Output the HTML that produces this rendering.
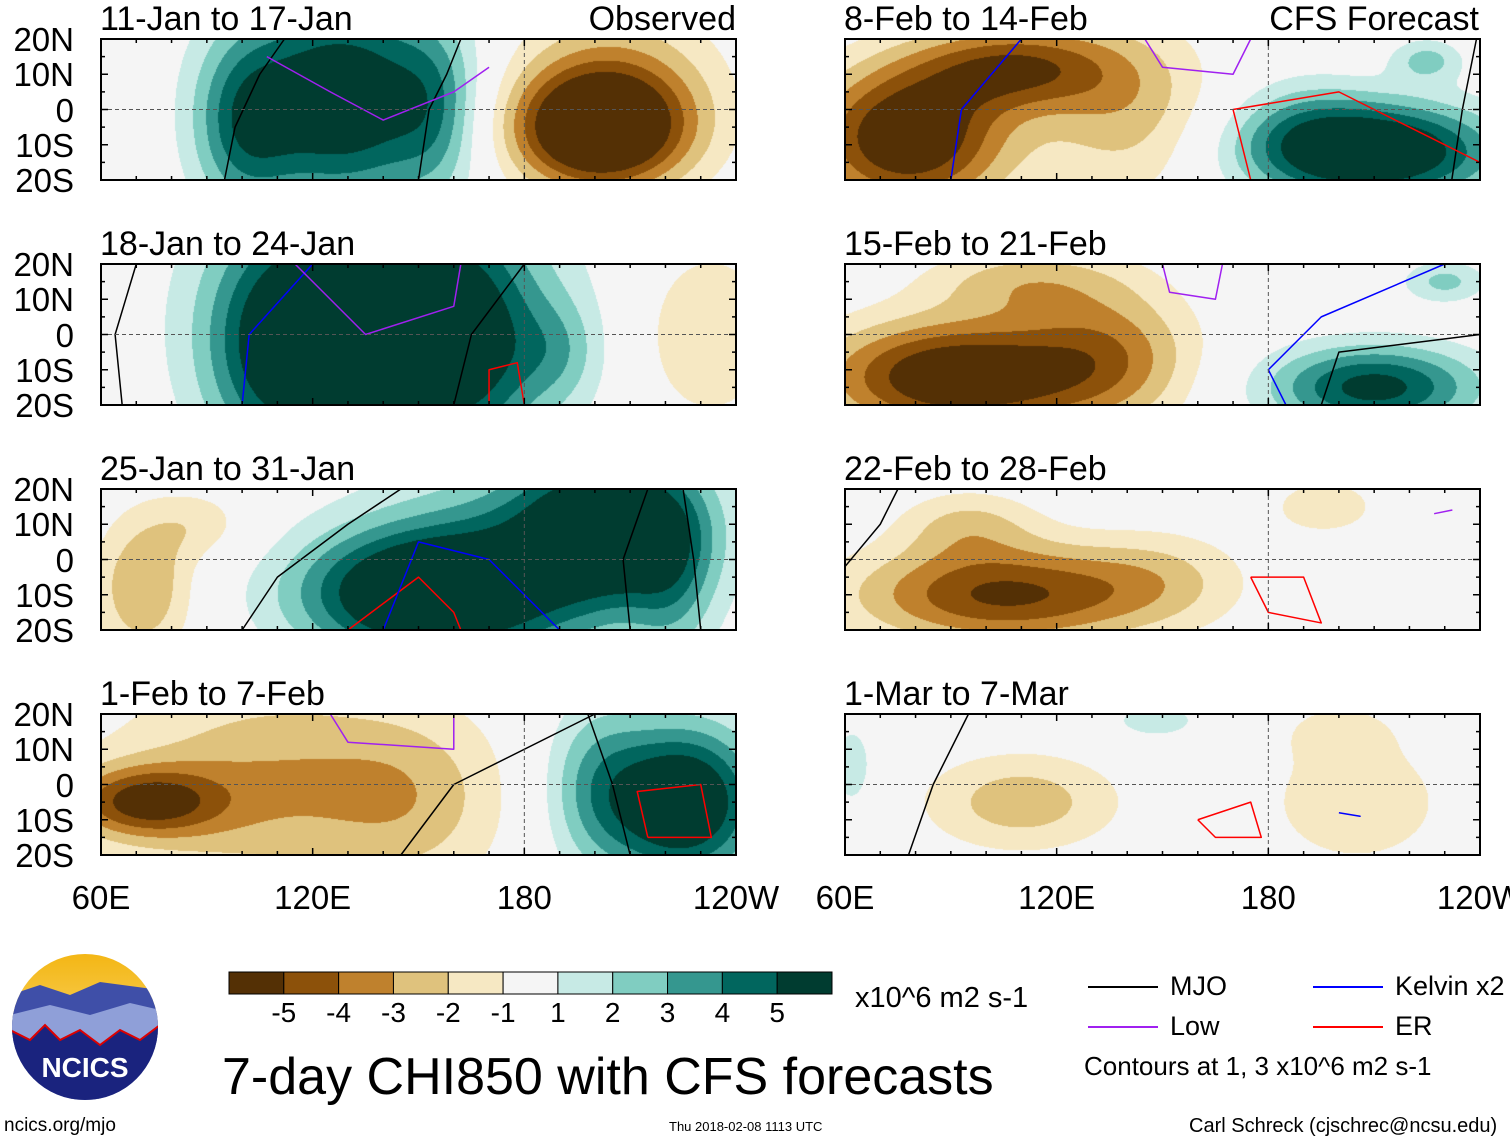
<!DOCTYPE html>
<html><head><meta charset="utf-8">
<style>
body{margin:0;background:#fff;width:1510px;height:1142px;overflow:hidden;font-family:"Liberation Sans",sans-serif;position:relative}
.t{position:absolute;white-space:nowrap;color:#000;line-height:1}
canvas{position:absolute;left:0;top:0}
svg{position:absolute;left:0;top:0}
</style></head><body>
<canvas id="cv" width="1510" height="1142"></canvas>
<svg id="ov" width="1510" height="1142"></svg>

<div class="t" style="left:222px;top:1051px;font-size:52px">7-day CHI850 with CFS forecasts</div>
<div class="t" style="left:855px;top:984px;font-size:29px">x10^6 m2 s-1</div>
<div class="t" style="left:1084px;top:1053px;font-size:26px">Contours at 1, 3 x10^6 m2 s-1</div>
<div class="t" style="left:4px;top:1116px;font-size:19px">ncics.org/mjo</div>
<div class="t" style="left:669px;top:1120px;font-size:13px">Thu 2018-02-08 1113 UTC</div>
<div class="t" style="left:1189px;top:1116px;font-size:20px">Carl Schreck (cjschrec@ncsu.edu)</div>

<script>
const panelTitles=["11-Jan to 17-Jan","18-Jan to 24-Jan","25-Jan to 31-Jan","1-Feb to 7-Feb","8-Feb to 14-Feb","15-Feb to 21-Feb","22-Feb to 28-Feb","1-Mar to 7-Mar"];
// blobs: [lonCenter, latCenter, amplitude, lonWidth, latWidth]
const blobs0=[[128,3,6.5,30,30],[100,-5,3,14,25],[155,0,2,12,25],[201,-6,-6.5,24,16],[205,5,-3,30,25]];
const blobs1=[[140,5,6.5,42,40],[110,-5,3.5,20,30],[165,-5,2.5,20,30],[232,0,-2,20,25],[190,-5,1.5,12,15]];
const blobs2=[[150,-10,6.5,35,18],[205,10,6,25,20],[180,0,3,45,30],[222,-5,2,12,25],[72,-8,-3,14,20],[88,10,-1.5,15,10]];
const blobs3=[[72,-5,-4.5,22,10],[110,0,-3,48,30],[150,-5,-1.5,25,25],[225,-5,7,22,22],[200,0,2.5,15,25]];
const blobs4=[[78,-8,-6.5,28,20],[108,12,-4.5,28,12],[140,0,-2.5,25,25],[210,-12,7,35,14],[225,14,2.3,10,6],[190,-5,1.5,20,15]];
const blobs5=[[92,-12,-6.5,38,16],[110,15,-2.2,28,10],[135,-5,-3,25,20],[210,-15,5.5,30,12],[230,15,2.3,12,6]];
const blobs6=[[105,-10,-5.2,42,14],[95,10,-2,20,10],[150,-5,-1.5,25,14],[196,15,-1.8,15,8]];
const blobs7=[[110,-5,-2.6,28,14],[62,5,1.8,6,12],[148,18,1.5,15,6],[205,-5,-1.7,28,20],[200,15,-1.2,15,8]];
const allBlobs=[blobs0,blobs1,blobs2,blobs3,blobs4,blobs5,blobs6,blobs7];
// contour lines: [type, [[lon,lat],...]]
const lines0=[["mjo",[[95,-20],[98,-5],[105,10],[112,20]]],["mjo",[[150,-20],[153,0],[158,10],[162,20]]],["low",[[107,15],[125,5],[140,-3],[160,5],[170,12]]]];
const lines1=[["mjo",[[66,-20],[64,0],[70,20]]],["kelvin",[[100,-20],[102,0],[120,20]]],["mjo",[[160,-20],[165,0],[180,20]]],["er",[[170,-20],[170,-10],[178,-8],[180,-20]]],["low",[[115,20],[135,0],[160,8],[162,20]]]];
const lines2=[["mjo",[[100,-20],[110,-5],[130,10],[145,20]]],["er",[[130,-20],[150,-5],[160,-15],[162,-20]]],["kelvin",[[140,-20],[150,5],[170,0],[190,-20]]],["mjo",[[210,-20],[208,0],[215,20]]],["mjo",[[230,-20],[228,0],[225,20]]]];
const lines3=[["mjo",[[145,-20],[160,0],[200,20]]],["mjo",[[210,-20],[205,0],[198,20]]],["er",[[215,-15],[212,-2],[230,0],[233,-15],[215,-15]]],["low",[[125,20],[130,12],[160,10],[160,20]]]];
const lines4=[["kelvin",[[90,-20],[93,0],[110,20]]],["mjo",[[232,-20],[235,0],[239,20]]],["er",[[175,-20],[170,0],[200,5],[240,-15]]],["low",[[145,20],[150,12],[170,10],[175,20]]]];
const lines5=[["kelvin",[[185,-20],[180,-10],[195,5],[230,20]]],["mjo",[[195,-20],[200,-5],[240,0]]],["low",[[150,20],[152,12],[165,10],[167,20]]]];
const lines6=[["mjo",[[60,-2],[70,10],[75,20]]],["er",[[175,-5],[190,-5],[195,-18],[180,-15],[175,-5]]],["low",[[227,13],[232,14],[227,13]]]];
const lines7=[["mjo",[[78,-20],[85,0],[95,20]]],["er",[[160,-10],[175,-5],[178,-15],[165,-15],[160,-10]]],["kelvin",[[200,-8],[206,-9],[200,-8]]]];
const allLines=[lines0,lines1,lines2,lines3,lines4,lines5,lines6,lines7];
const levels=[-5,-4,-3,-2,-1,1,2,3,4,5];
const lonTicks=["60E","120E","180","120W"];
const colors=["#543005","#8c510a","#bf812d","#dfc27d","#f6e8c3","#f5f5f5","#c7eae5","#80cdc1","#35978f","#01665e","#003c30"];
const lineColors={mjo:"#000",low:"#a020f0",kelvin:"#0000ff",er:"#ff0000"};

const PW=635,PH=141,tops=[39,264,489,714],lefts=[101,845];
const cv=document.getElementById('cv'),ctx=cv.getContext('2d');
const ov=document.getElementById('ov');const NS="http://www.w3.org/2000/svg";
function mk(tag,attrs){const e=document.createElementNS(NS,tag);for(const k in attrs)e.setAttribute(k,attrs[k]);ov.appendChild(e);return e;}
function field(b,lon,lat){let v=0;for(const q of b){const dx=(lon-q[0])/q[3],dy=(lat-q[1])/q[4];v+=q[2]*Math.exp(-dx*dx-dy*dy);}return v;}
function bin(v){let i=0;while(i<levels.length&&v>=levels[i])i++;return i;}
for(let p=0;p<8;p++){
  const x0=lefts[p<4?0:1],y0=tops[p%4];
  const xs=l=>x0+(l-60)/180*PW, ys=a=>y0+(20-a)/40*PH;
  const b=allBlobs[p];
  for(let px=0;px<PW;px+=1)for(let py=0;py<PH;py+=1){
    const lon=60+(px+.5)/PW*180,lat=20-(py+.5)/PH*40;
    ctx.fillStyle=colors[bin(field(b,lon,lat))];ctx.fillRect(x0+px,y0+py,1,1);
  }
  for(const ln of allLines[p]){
    const pl=mk('polyline',{points:ln[1].map(q=>xs(q[0])+','+ys(q[1])).join(' '),fill:'none',stroke:lineColors[ln[0]],'stroke-width':1.5,'stroke-linejoin':'round'});
    
    
  }
  mk('line',{x1:xs(180),x2:xs(180),y1:y0,y2:y0+PH,stroke:'#555','stroke-dasharray':'4,3','stroke-width':1});
  mk('line',{x1:x0,x2:x0+PW,y1:ys(0),y2:ys(0),stroke:'#555','stroke-dasharray':'4,3','stroke-width':1});
  const fr=mk('rect',{x:x0,y:y0,width:PW,height:PH,fill:'none',stroke:'#000','stroke-width':2});
  
  
  for(let l=60;l<=240;l+=10){const h=(l%60==0)?7:4;
    mk('line',{x1:xs(l),x2:xs(l),y1:y0,y2:y0+h,stroke:'#000','stroke-width':1.5});
    mk('line',{x1:xs(l),x2:xs(l),y1:y0+PH,y2:y0+PH-h,stroke:'#000','stroke-width':1.5});}
  for(let a=-20;a<=20;a+=5){const h=(a%10==0)?7:4;
    mk('line',{x1:x0,x2:x0+h,y1:ys(a),y2:ys(a),stroke:'#000','stroke-width':1.5});
    mk('line',{x1:x0+PW,x2:x0+PW-h,y1:ys(a),y2:ys(a),stroke:'#000','stroke-width':1.5});}
  const t=document.createElement('div');t.className='t';t.textContent=panelTitles[p];
  t.style.cssText=`left:${x0-1}px;top:${y0-37}px;font-size:34px`;
  
  
  document.body.appendChild(t);
  if(p<4){['20N','10N','0','10S','20S'].forEach((s,i)=>{const d=document.createElement('div');d.className='t';d.textContent=s;
    d.style.cssText=`right:${1510-74}px;top:${ys(20-i*10)-16}px;font-size:33px;text-align:right`;
    
    
    document.body.appendChild(d);});}
  if(p%4==3){lonTicks.forEach((s,i)=>{const d=document.createElement('div');d.className='t';d.textContent=s;
    d.style.cssText=`left:${xs(60+i*60)-50}px;width:100px;text-align:center;top:881px;font-size:33px`;
    
    
    document.body.appendChild(d);});}
}
[["Observed",736],["CFS Forecast",1479]].forEach(([s,r])=>{const d=document.createElement('div');d.className='t';d.textContent=s;
  d.style.cssText=`right:${1510-r}px;top:2px;font-size:34px`;
  
  
  document.body.appendChild(d);});
// colorbar
const cbx=229,cbw=603/11;
colors.forEach((c,i)=>{const r=mk('rect',{x:cbx+i*cbw,y:972,width:cbw,height:22,fill:c,stroke:'#000','stroke-width':1});
  
  });
levels.forEach((v,i)=>{const d=document.createElement('div');d.className='t';d.textContent=v;
  d.style.cssText=`left:${cbx+(i+1)*cbw-30}px;width:60px;text-align:center;top:999px;font-size:28px`;
  
  
  document.body.appendChild(d);});
// legend
[["MJO","mjo",1088,987],["Low","low",1088,1027],["Kelvin x2","kelvin",1313,987],["ER","er",1313,1027]].forEach(([s,k,x,y])=>{
  mk('line',{x1:x,x2:x+70,y1:y,y2:y,stroke:lineColors[k],'stroke-width':2});
  const d=document.createElement('div');d.className='t';d.textContent=s;
  d.style.cssText=`left:${x+82}px;top:${y-14}px;font-size:27px`;
  
  
  document.body.appendChild(d);});
// logo
const defs=mk('defs',{});defs.innerHTML='<clipPath id="lc"><circle cx="85" cy="1027" r="73"/></clipPath><linearGradient id="sky" x1="0" y1="0" x2="0" y2="1"><stop offset="0" stop-color="#f3b511"/><stop offset="1" stop-color="#fde9a0"/></linearGradient>';
const g=mk('g',{'clip-path':'url(#lc)'});
g.innerHTML='<rect x="10" y="950" width="150" height="160" fill="url(#sky)"/><path d="M10 995 L40 985 L70 995 L100 982 L160 990 L160 1110 L10 1110Z" fill="#3f4fa8"/><path d="M10 1015 L50 1005 L90 1015 L130 1003 L160 1010 L160 1110 L10 1110Z" fill="#8f9fd8"/><path d="M10 1030 L30 1040 L45 1025 L60 1040 L80 1030 L100 1045 L120 1030 L140 1040 L160 1025 L160 1110 L10 1110Z" fill="#1a237e" stroke="#d00" stroke-width="2"/>';
const lt=mk('text',{x:85,y:1077,'text-anchor':'middle','font-size':28,'font-weight':'bold',fill:'#fff','font-family':'Liberation Sans'});lt.textContent='NCICS';
</script>
</body></html>
